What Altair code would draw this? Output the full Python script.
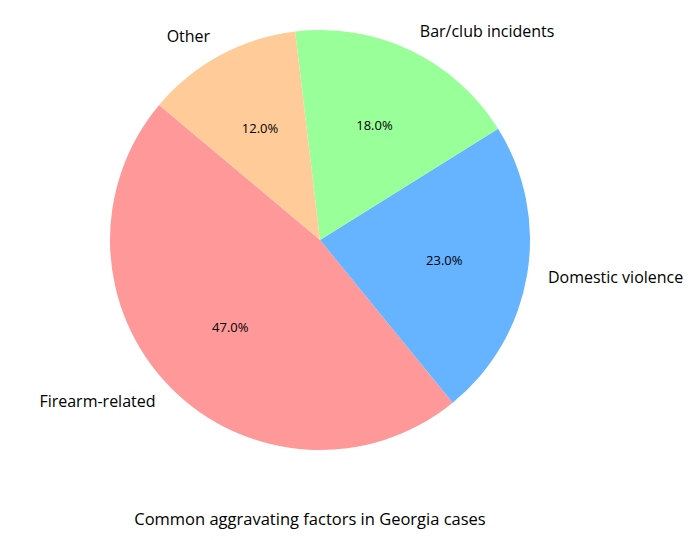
import altair as alt
import pandas as pd
import math

categories = ["Firearm-related", "Domestic violence", "Bar/club incidents", "Other"]
values = [47, 23, 18, 12]
colors = ["#ff9999", "#66b3ff", "#99ff99", "#ffcc99"]
# clockwise drawing order (Vega goes clockwise from 12 o'clock)
order = [3, 2, 1, 0]
side = ["left", "right", "right", "left"]
title_text = "Common aggravating factors in Georgia cases"

df = pd.DataFrame({
    "category": categories,
    "value": values,
    "ord": order,
    "side": side,
    "pct": [f"{v:.1f}%" for v in values],
})

start = math.radians(310)
theta_scale = alt.Scale(domain=[0, 100], range=[start, start + 2 * math.pi])
color_scale = alt.Scale(domain=categories, range=colors)

CX, CY, R = 312, 232, 210
FONT = "Open Sans"

base = alt.Chart(df).transform_stack(
    stack="value", groupby=[], as_=["v0", "v1"], sort=[alt.SortField("ord", order="ascending")]
).transform_calculate(mid="(datum.v0 + datum.v1) / 2")

pie = base.mark_arc(radius=R, strokeWidth=0).encode(
    theta=alt.Theta("v0:Q", scale=theta_scale, stack=None),
    theta2="v1:Q",
    color=alt.Color("category:N", scale=color_scale, legend=None),
    x=alt.value(CX), y=alt.value(CY),
)

pct = base.mark_text(radius=R * 0.6, font=FONT, fontSize=13, color="black").encode(
    theta=alt.Theta("mid:Q", scale=theta_scale, stack=None),
    text="pct:N",
    x=alt.value(CX), y=alt.value(CY),
)

lab_left = base.transform_filter(alt.datum.side == "left").mark_text(
    radius=R * 1.1, font=FONT, fontSize=16, color="black", align="right", baseline="middle"
).encode(
    theta=alt.Theta("mid:Q", scale=theta_scale, stack=None),
    text="category:N",
    x=alt.value(CX), y=alt.value(CY),
)

lab_right = base.transform_filter(alt.datum.side == "right").mark_text(
    radius=R * 1.1, font=FONT, fontSize=16, color="black", align="left", baseline="middle"
).encode(
    theta=alt.Theta("mid:Q", scale=theta_scale, stack=None),
    text="category:N",
    x=alt.value(CX), y=alt.value(CY),
)

title = alt.Chart(pd.DataFrame({"t": [title_text]})).mark_text(
    font=FONT, fontSize=16.5, color="black", align="center", baseline="middle"
).encode(text="t:N", x=alt.value(302), y=alt.value(512))

chart = alt.layer(pie, pct, lab_left, lab_right, title).properties(
    width=670, height=520,
    padding=0,
).configure_view(strokeWidth=0)

chart.save("out.html", embed_options={"renderer": "svg", "actions": False})
